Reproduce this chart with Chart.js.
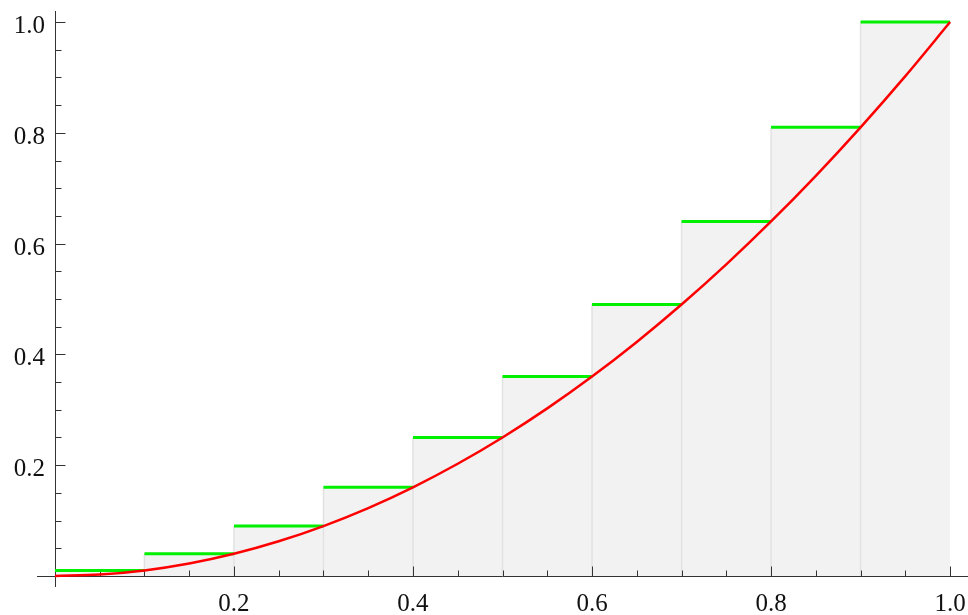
<!DOCTYPE html>
<html>
<head>
<meta charset="utf-8">
<script src="https://cdn.jsdelivr.net/npm/chart.js@4/dist/chart.umd.min.js"></script>
<style>
  html, body { margin: 0; padding: 0; background: #fff; }
  #chart { display: block; }
</style>
</head>
<body>
<canvas id="chart" width="968" height="615"></canvas>
<script>
// Riemann sum (right endpoints) of x^2 on [0, 1], 10 strips
const breaks = [0, 0.1, 0.2, 0.3, 0.4, 0.5, 0.6, 0.7, 0.8, 0.9, 1.0];
const heights = [0.01, 0.04, 0.09, 0.16, 0.25, 0.36, 0.49, 0.64, 0.81, 1.0];

// red curve
const curveX = [0, 0.05, 0.1, 0.15, 0.2, 0.25, 0.3, 0.35, 0.4, 0.45, 0.5,
  0.55, 0.6, 0.65, 0.7, 0.75, 0.8, 0.85, 0.9, 0.95, 1.0];
const curveY = [0, 0.0025, 0.01, 0.0225, 0.04, 0.0625, 0.09, 0.1225, 0.16, 0.2025, 0.25,
  0.3025, 0.36, 0.4225, 0.49, 0.5625, 0.64, 0.7225, 0.81, 0.9025, 1.0];

// axis ticks
const majorTicks = [0.2, 0.4, 0.6, 0.8, 1.0];
const tickLabels = ['0.2', '0.4', '0.6', '0.8', '1.0'];
const minorTicks = [0.05, 0.1, 0.15, 0.25, 0.3, 0.35, 0.45, 0.5, 0.55, 0.65, 0.7, 0.75, 0.85, 0.9, 0.95];

const AXIS_COLOR = '#333333';
const FONT = '25px "Liberation Serif", "DejaVu Serif", serif';

// step outline for the gray fill
const fillPts = heights.map((h, i) => ({ x: breaks[i], y: h }));
fillPts.push({ x: 1, y: heights[heights.length - 1] });

// left edges of each strip
const edgePts = [];
for (let i = 1; i < heights.length; i++) {
  edgePts.push({ x: breaks[i], y: 0 }, { x: breaks[i], y: heights[i] }, { x: breaks[i], y: null });
}

// green tops
const topPts = [];
heights.forEach((h, i) => {
  topPts.push({ x: breaks[i], y: h }, { x: breaks[i + 1], y: h }, { x: breaks[i + 1], y: null });
});

const curvePts = curveX.map((x, i) => ({ x, y: curveY[i] }));

const axesPlugin = {
  id: 'mmaAxes',
  afterDatasetDraw(chart, args) {
    if (args.index !== 1) return; // draw right after the edges
    const { ctx, scales: { x, y } } = chart;
    const x0 = x.getPixelForValue(0);
    const y0 = y.getPixelForValue(0);
    ctx.save();
    ctx.strokeStyle = AXIS_COLOR;
    ctx.lineWidth = 1;
    ctx.beginPath();
    // x axis
    ctx.moveTo(x.left, Math.round(y0) + 0.5);
    ctx.lineTo(x.right, Math.round(y0) + 0.5);
    // y axis
    ctx.moveTo(Math.round(x0) + 0.5, y.top);
    ctx.lineTo(Math.round(x0) + 0.5, y.bottom);
    // ticks
    const yy = Math.round(y0) + 0.5;
    const xx = Math.round(x0) + 0.5;
    majorTicks.forEach(v => {
      const px = Math.round(x.getPixelForValue(v)) + 0.5;
      ctx.moveTo(px, yy); ctx.lineTo(px, yy - 10);
      const py = Math.round(y.getPixelForValue(v)) + 0.5;
      ctx.moveTo(xx, py); ctx.lineTo(xx + 10, py);
    });
    minorTicks.forEach(v => {
      const px = Math.round(x.getPixelForValue(v)) + 0.5;
      ctx.moveTo(px, yy); ctx.lineTo(px, yy - 6);
      const py = Math.round(y.getPixelForValue(v)) + 0.5;
      ctx.moveTo(xx, py); ctx.lineTo(xx + 6, py);
    });
    ctx.stroke();

    // labels
    ctx.fillStyle = '#111';
    ctx.font = FONT;
    ctx.textBaseline = 'alphabetic';
    majorTicks.forEach((v, i) => {
      ctx.textAlign = 'center';
      ctx.fillText(tickLabels[i], x.getPixelForValue(v), y0 + 35);
      ctx.textAlign = 'right';
      ctx.fillText(tickLabels[i], x0 - 10, y.getPixelForValue(v) + 11);
    });
    ctx.restore();
  }
};

new Chart(document.getElementById('chart'), {
  type: 'line',
  data: {
    datasets: [
      {
        data: fillPts,
        stepped: 'before',
        fill: 'origin',
        backgroundColor: '#f2f2f2',
        borderWidth: 0,
        borderColor: 'rgba(0,0,0,0)',
        pointRadius: 0,
        order: 5,
      },
      {
        data: edgePts,
        borderColor: '#e2e2e2',
        borderWidth: 1.5,
        spanGaps: false,
        pointRadius: 0,
        fill: false,
        order: 4,
      },
      {
        data: topPts,
        borderColor: '#00f000',
        borderWidth: 3,
        spanGaps: false,
        pointRadius: 0,
        fill: false,
        order: 2,
      },
      {
        data: curvePts,
        borderColor: '#ff0000',
        borderWidth: 2.5,
        cubicInterpolationMode: 'monotone',
        pointRadius: 0,
        fill: false,
        order: 1,
      },
    ],
  },
  options: {
    responsive: false,
    animation: false,
    devicePixelRatio: 1,
    layout: { padding: { left: 37, right: 0, top: 11, bottom: 28 } },
    plugins: { legend: { display: false }, tooltip: { enabled: false } },
    scales: {
      x: { type: 'linear', min: -0.02, max: 1.02, display: false },
      y: { type: 'linear', min: -0.02, max: 1.02, display: false },
    },
  },
  plugins: [axesPlugin],
});
</script>
</body>
</html>
